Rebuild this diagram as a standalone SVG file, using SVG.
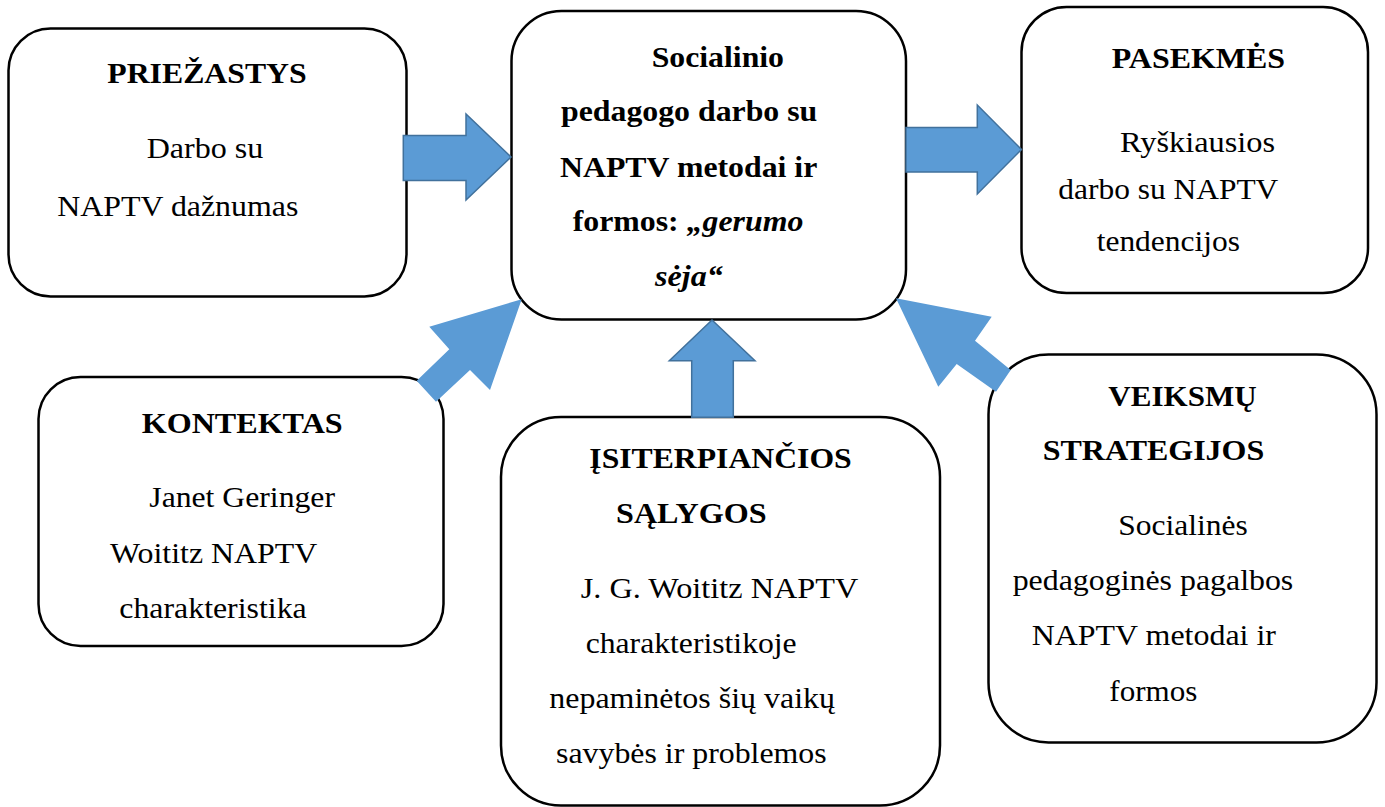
<svg xmlns="http://www.w3.org/2000/svg" width="1385" height="807" viewBox="0 0 1385 807">
<style>
.box{fill:#ffffff;stroke:#000000;stroke-width:2.5}
.t{font-family:"Liberation Serif","Times New Roman",serif;font-size:30px;fill:#000000}
.b{font-weight:bold}
.i{font-style:italic}
.arr{fill:#5B9BD5;stroke:#41719C;stroke-width:1.5;stroke-linejoin:miter}
.arrd{fill:#5B9BD5}
</style>
<rect width="1385" height="807" fill="#ffffff"/>
<g id="node-priezastys">
<rect class="box" x="8.5" y="28.5" width="398" height="268" rx="42" ry="42"/>
<text class="t b" x="107.3" y="83.3" textLength="199.4" lengthAdjust="spacingAndGlyphs">PRIEŽASTYS</text>
<text class="t" x="146.7" y="158.3" textLength="116.6" lengthAdjust="spacingAndGlyphs">Darbo su</text>
<text class="t" x="57.3" y="216" textLength="241" lengthAdjust="spacingAndGlyphs">NAPTV dažnumas</text>
</g>
<g id="node-center">
<rect class="box" x="511.5" y="11" width="394.5" height="308.5" rx="50" ry="50"/>
<text class="t b" x="651.7" y="66.7" textLength="132.3" lengthAdjust="spacingAndGlyphs">Socialinio</text>
<text class="t b" x="561" y="120.7" textLength="256.3" lengthAdjust="spacingAndGlyphs">pedagogo darbo su</text>
<text class="t b" x="560" y="176.7" textLength="257.3" lengthAdjust="spacingAndGlyphs">NAPTV metodai ir</text>
<text class="t b" x="572.7" y="230.7" textLength="230.6" lengthAdjust="spacingAndGlyphs">formos: <tspan class="i">„gerumo</tspan></text>
<text class="t b i" x="655" y="286" textLength="67.7" lengthAdjust="spacingAndGlyphs">sėja“</text>
</g>
<g id="node-pasekmes">
<rect class="box" x="1021.5" y="7" width="346.5" height="286" rx="45" ry="45"/>
<text class="t b" x="1111.7" y="68.3" textLength="173.3" lengthAdjust="spacingAndGlyphs">PASEKMĖS</text>
<text class="t" x="1120" y="152" textLength="155" lengthAdjust="spacingAndGlyphs">Ryškiausios</text>
<text class="t" x="1058.3" y="199" textLength="220" lengthAdjust="spacingAndGlyphs">darbo su NAPTV</text>
<text class="t" x="1096.7" y="251" textLength="143.3" lengthAdjust="spacingAndGlyphs">tendencijos</text>
</g>
<g id="node-kontektas">
<rect class="box" x="38.5" y="377" width="405" height="269" rx="42" ry="42"/>
<text class="t b" x="141.7" y="432.7" textLength="201" lengthAdjust="spacingAndGlyphs">KONTEKTAS</text>
<text class="t" x="149.3" y="507.3" textLength="185.7" lengthAdjust="spacingAndGlyphs">Janet Geringer</text>
<text class="t" x="110" y="563.3" textLength="207.3" lengthAdjust="spacingAndGlyphs">Woititz NAPTV</text>
<text class="t" x="119.3" y="618.3" textLength="187.4" lengthAdjust="spacingAndGlyphs">charakteristika</text>
</g>
<g id="node-isiterpiancios">
<rect class="box" x="501" y="417" width="439" height="388.5" rx="60" ry="60"/>
<text class="t b" x="589.3" y="468.3" textLength="262.4" lengthAdjust="spacingAndGlyphs">ĮSITERPIANČIOS</text>
<text class="t b" x="616" y="522.7" textLength="150.7" lengthAdjust="spacingAndGlyphs">SĄLYGOS</text>
<text class="t" x="580.7" y="598.3" textLength="277.6" lengthAdjust="spacingAndGlyphs">J. G. Woititz NAPTV</text>
<text class="t" x="585.7" y="653.3" textLength="211" lengthAdjust="spacingAndGlyphs">charakteristikoje</text>
<text class="t" x="549.3" y="707.7" textLength="285.7" lengthAdjust="spacingAndGlyphs">nepaminėtos šių vaikų</text>
<text class="t" x="556" y="762.7" textLength="270.7" lengthAdjust="spacingAndGlyphs">savybės ir problemos</text>
</g>
<g id="node-veiksmu">
<rect class="box" x="988.5" y="354.5" width="388" height="388" rx="60" ry="60"/>
<text class="t b" x="1108.3" y="405.7" textLength="148.4" lengthAdjust="spacingAndGlyphs">VEIKSMŲ</text>
<text class="t b" x="1042.7" y="460" textLength="221.6" lengthAdjust="spacingAndGlyphs">STRATEGIJOS</text>
<text class="t" x="1118.3" y="535" textLength="129.4" lengthAdjust="spacingAndGlyphs">Socialinės</text>
<text class="t" x="1012.7" y="590" textLength="280.6" lengthAdjust="spacingAndGlyphs">pedagoginės pagalbos</text>
<text class="t" x="1031.7" y="645" textLength="244.3" lengthAdjust="spacingAndGlyphs">NAPTV metodai ir</text>
<text class="t" x="1109.3" y="701" textLength="88" lengthAdjust="spacingAndGlyphs">formos</text>
</g>
<g id="connectors">
<polygon class="arr" points="403.3,135.5 466,135.5 466,114 511,157 466,200 466,180.5 403.3,180.5"/>
<polygon class="arr" points="906,127.5 977.3,127.5 977.3,105 1021.5,149.5 977.3,194 977.3,172 906,172"/>
<polygon class="arr" points="712,320 755,360.7 733.3,360.7 733.3,417.3 691.7,417.3 691.7,360.7 669.3,360.7"/>
<polygon class="arrd" points="521.7,299.3 490,390 470,370 436,401.7 416.7,380.7 449.3,349.3 429.3,326.7"/>
<polygon class="arrd" points="896,298.3 991.7,316.7 975,340.7 1010.7,370 996,391.7 956.7,364 938.3,386.7"/>
</g>
</svg>
